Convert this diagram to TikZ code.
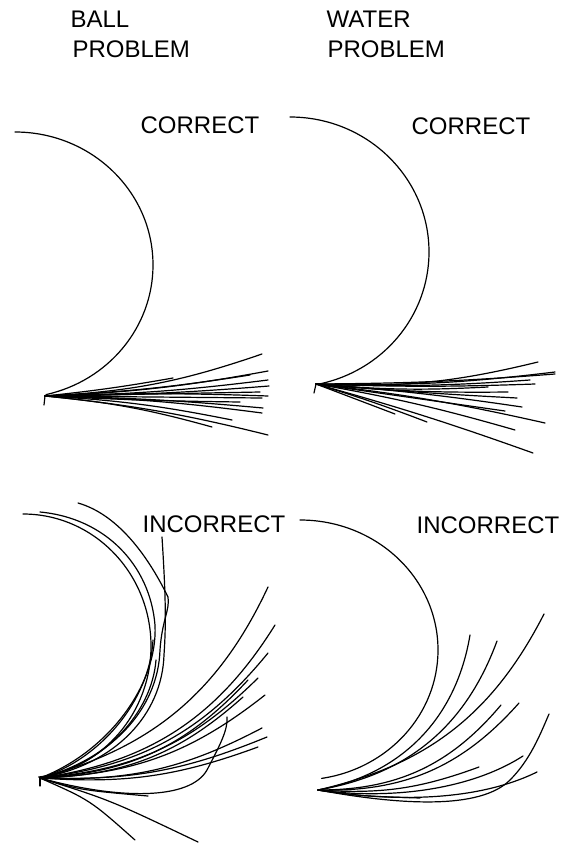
\documentclass[tikz,border=0pt]{standalone}
\usepackage{fontspec}
\setmainfont{Liberation Sans}

\begin{document}
\begin{tikzpicture}[x=1pt,y=-1pt,line width=1.2pt,line cap=round,
  rotulo/.style={anchor=base west,inner sep=0pt,font=\fontsize{24}{28}\selectfont}]
  \useasboundingbox (0,0) rectangle (568,843);
  % titulos de las columnas
  \node[rotulo] (bola1) at (70,28) {BALL};
  \node[rotulo] (bola2) at (72,58) {PROBLEM};
  \node[rotulo] (agua1) at (326,28) {WATER};
  \node[rotulo] (agua2) at (327,58) {PROBLEM};
  \node[rotulo] (bolac) at (140,133) {CORRECT};
  \node[rotulo] (aguac) at (411,134) {CORRECT};
  \node[rotulo] (bolai) at (142,532) {INCORRECT};
  \node[rotulo] (aguai) at (416,533) {INCORRECT};
  % puntos de salida
  \coordinate (O1) at (45,396);
  \coordinate (O2) at (316,384);
  \coordinate (O3) at (40,778);
  \coordinate (O4) at (318,790);
  % tubos
  \draw (15,132) arc[start angle=-90,end angle=77,x radius=138,y radius=133];
  \draw (290,117) arc[start angle=-90,end angle=79,x radius=139,y radius=135];
  \draw (23,514) arc[start angle=-90,end angle=83,x radius=128,y radius=132];
  \draw (300,520) arc[start angle=-90,end angle=81,x radius=138,y radius=130];
  \draw (O1) -- ++(-1,9);
  \draw (O2) -- ++(-2,9);
  \draw (O3) -- ++(0,8);
  % pelota, correctas
  \foreach \ex/\ey/\b in {262/354/8,268/371/4,173/378/2,268/380/3,269/386/2,260/392/0,
     268/396/-2,262/398/0,263/408/-2,262/413/-3,232/420/-4,212/427/-5,268/435/-4,240/402/1,250/375/3}
     \draw (O1) to[bend right=\b] (\ex,\ey);
  % agua, correctas
  \foreach \ex/\ey/\b in {538/362/8,555/372/4,535/384/2,508/392/3,517/398/1,522/407/-2,505/411/0,
     545/423/-3,515/430/-3,533/453/-2,395/414/0,427/422/-2,488/387/4,555/374/2,530/380/3}
     \draw (O2) to[bend right=\b] (\ex,\ey);
  % pelota, incorrectas
  \draw (O3) .. controls (108,752) and (158,685) .. (155,625) .. controls (150,565) and (105,518) .. (40,512);
  \draw (O3) .. controls (100,760) and (150,700) .. (153,640);
  \draw (O3) .. controls (110,760) and (158,710) .. (160,650) .. controls (162,620) and (170,610) .. (168,597)
     .. controls (150,560) and (120,515) .. (78,503);
  \draw (O3) .. controls (115,765) and (162,715) .. (164,655) .. controls (166,625) and (166,600) .. (162,537);
  \draw (O3) .. controls (105,765) and (152,712) .. (156,660);
  \foreach \ex/\ey/\b in {268/587/25,275/625/25,268/653/22,258/678/20,248/680/22,265/695/18,
     243/697/20,262/728/15,267/737/12,258/747/12}
     \draw (O3) to[bend right=\b] (\ex,\ey);
  \draw (O3) .. controls (120,800) and (190,800) .. (207,770) .. controls (220,745) and (228,730) .. (227,717);
  \draw (O3) .. controls (80,790) .. (148,796);
  \draw (O3) .. controls (90,800) .. (135,840);
  \draw (O3) .. controls (110,800) .. (198,842);
  % agua, incorrectas
  \foreach \ex/\ey/\b in {470/635/35,497/641/30,544/614/25,501/705/25,519/703/25,479/767/12}
     \draw (O4) to[bend right=\b] (\ex,\ey);
  \draw (O4) .. controls (400,805) and (480,810) .. (510,780) .. controls (530,760) and (540,735) .. (549,714);
  \draw (O4) .. controls (400,803) and (480,800) .. (537,772);
  \draw (O4) .. controls (390,800) and (470,790) .. (523,756);
  \draw (O4) .. controls (360,796) .. (420,798);
\end{tikzpicture}
\end{document}
